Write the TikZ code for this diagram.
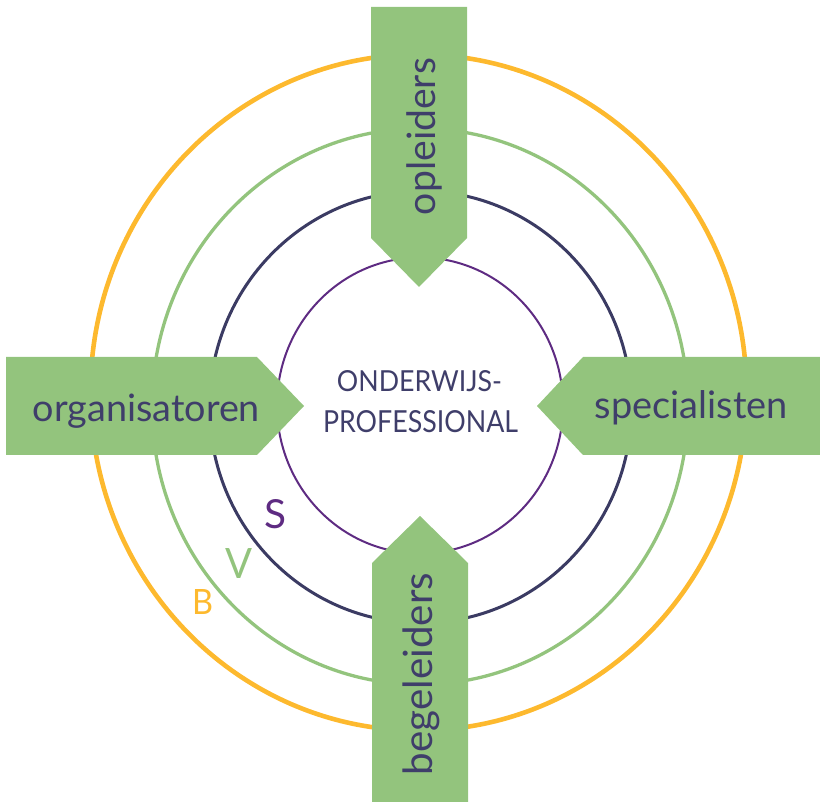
\documentclass[tikz,border=0pt]{standalone}
\usepackage{fontspec}
\usepackage{graphicx}
\setmainfont{Lato}
\definecolor{ringB}{HTML}{FDB92E}
\definecolor{ringV}{HTML}{93C47D}
\definecolor{ringS}{HTML}{3B3B63}
\definecolor{ringP}{HTML}{5E2B82}
\definecolor{arrowgreen}{HTML}{93C47D}
\definecolor{txt}{HTML}{3F3E6A}
\tikzset{
  ring/.style={fill=none},
  pointer/.style={fill=arrowgreen},
  word/.style={inner sep=0pt, text=txt},
  letter/.style={inner sep=0pt}
}
\begin{document}
\begin{tikzpicture}[x=1pt,y=-1pt]
\useasboundingbox (0,0) rectangle (820,802);
% rings
\draw[ring, draw=ringB, line width=4.6pt] (418.5,392.5) ellipse [x radius=328, y radius=338];
\draw[ring, draw=ringV, line width=3.3pt] (420,406.5) ellipse [x radius=268, y radius=278];
\draw[ring, draw=ringS, line width=3pt] (420.5,407) ellipse [x radius=211, y radius=216];
\draw[ring, draw=ringP, line width=2pt] (420,405.5) ellipse [x radius=143, y radius=148];
% arrows
\fill[pointer] (371,7) -- (467,7) -- (467,238) -- (419,287) -- (371,238) -- cycle;
\fill[pointer] (6,357) -- (257,357) -- (304,406) -- (257,455) -- (6,455) -- cycle;
\fill[pointer] (820,357) -- (583,357) -- (537,406) -- (583,455) -- (820,455) -- cycle;
\fill[pointer] (372,802) -- (372,563) -- (420,516) -- (468,563) -- (468,802) -- cycle;
% labels
\node[word, rotate=90] (opl) at (424,136.5) {\resizebox{157pt}{!}{opleiders}};
\node[word, rotate=90] (beg) at (421,674) {\resizebox{202pt}{!}{begeleiders}};
\node[word] (org) at (146.5,411) {\resizebox{227pt}{!}{organisatoren}};
\node[word] (spe) at (691.5,408) {\resizebox{193pt}{!}{specialisten}};
\node[word] (ond) at (419.5,381.5) {\resizebox{165pt}{21pt}{ONDERWIJS-}};
\node[word] (pro) at (420.5,421.5) {\resizebox{195pt}{22pt}{PROFESSIONAL}};
\node[letter, text=ringP] (S) at (276,514) {\resizebox{22pt}{29pt}{S}};
\node[letter, text=ringV] (V) at (238.5,563) {\resizebox{27pt}{30pt}{V}};
\node[letter, text=ringB] (B) at (202.5,602) {\resizebox{21pt}{25pt}{B}};
\end{tikzpicture}
\end{document}
